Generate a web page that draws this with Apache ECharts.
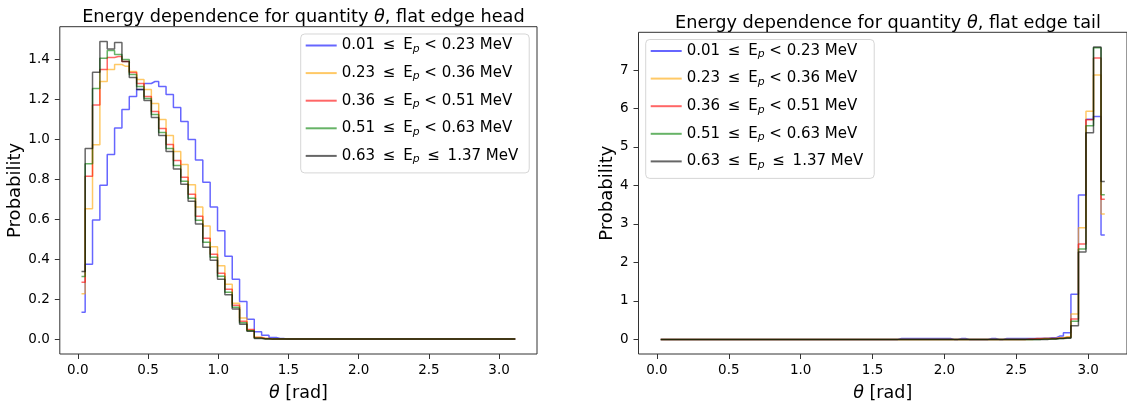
<!DOCTYPE html>
<html>
<head>
<meta charset="utf-8">
<script src="https://cdn.jsdelivr.net/npm/echarts@6/dist/echarts.min.js"></script>
<style>
  html, body { margin: 0; padding: 0; background: #fff; }
  #chart { width: 1127px; height: 407px; }
</style>
</head>
<body>
<div id="chart"></div>
<script>
// Bin centres in theta (rad): 60 equal bins over [0, pi]
const thetaCenters = [
  0.0262, 0.0785, 0.1309, 0.1833, 0.2356, 0.2880, 0.3403, 0.3927, 0.4451, 0.4974,
  0.5498, 0.6021, 0.6545, 0.7069, 0.7592, 0.8116, 0.8639, 0.9163, 0.9687, 1.0210,
  1.0734, 1.1257, 1.1781, 1.2305, 1.2828, 1.3352, 1.3875, 1.4399, 1.4923, 1.5446,
  1.5970, 1.6493, 1.7017, 1.7541, 1.8064, 1.8588, 1.9111, 1.9635, 2.0159, 2.0682,
  2.1206, 2.1729, 2.2253, 2.2777, 2.3300, 2.3824, 2.4347, 2.4871, 2.5395, 2.5918,
  2.6442, 2.6965, 2.7489, 2.8013, 2.8536, 2.9060, 2.9583, 3.0107, 3.0631, 3.1154
];

const xTicks = [0, 0.5, 1.0, 1.5, 2.0, 2.5, 3.0];
const headYTicks = [0, 0.2, 0.4, 0.6, 0.8, 1.0, 1.2, 1.4];
const tailYTicks = [0, 1, 2, 3, 4, 5, 6, 7];

// Energy bands (MeV)
const bandLow = ['0.01', '0.23', '0.36', '0.51', '0.63'];
const bandHigh = ['0.23', '0.36', '0.51', '0.63', '1.37'];
const bandUpperRel = ['<', '<', '<', '<', '≤'];

// Flat edge head: probability density per theta bin
const headBand1 = [
  0.135, 0.375, 0.596, 0.770, 0.925, 1.057, 1.150, 1.215, 1.250, 1.280,
  1.290, 1.265, 1.225, 1.160, 1.090, 1.000, 0.897, 0.785, 0.662, 0.543,
  0.415, 0.300, 0.189, 0.099, 0.037, 0.020, 0.008, 0.003, 0, 0,
  0, 0, 0, 0, 0, 0, 0, 0, 0, 0,
  0, 0, 0, 0, 0, 0, 0, 0, 0, 0,
  0, 0, 0, 0, 0, 0, 0, 0, 0, 0
];
const headBand2 = [
  0.227, 0.653, 0.973, 1.290, 1.350, 1.375, 1.366, 1.340, 1.300, 1.250,
  1.180, 1.100, 1.020, 0.940, 0.875, 0.773, 0.662, 0.567, 0.463, 0.367,
  0.275, 0.180, 0.106, 0.045, 0.010, 0.003, 0.001, 0, 0, 0,
  0, 0, 0, 0, 0, 0, 0, 0, 0, 0,
  0, 0, 0, 0, 0, 0, 0, 0, 0, 0,
  0, 0, 0, 0, 0, 0, 0, 0, 0, 0
];
const headBand3 = [
  0.285, 0.815, 1.172, 1.350, 1.410, 1.415, 1.390, 1.335, 1.280, 1.215,
  1.140, 1.055, 0.975, 0.895, 0.810, 0.725, 0.615, 0.505, 0.425, 0.330,
  0.250, 0.170, 0.090, 0.048, 0.008, 0.003, 0, 0, 0, 0,
  0, 0, 0, 0, 0, 0, 0, 0, 0, 0,
  0, 0, 0, 0, 0, 0, 0, 0, 0, 0,
  0, 0, 0, 0, 0, 0, 0, 0, 0, 0
];
const headBand4 = [
  0.313, 0.878, 1.255, 1.407, 1.445, 1.425, 1.400, 1.325, 1.265, 1.205,
  1.125, 1.035, 0.955, 0.870, 0.790, 0.705, 0.595, 0.485, 0.410, 0.315,
  0.235, 0.160, 0.082, 0.042, 0.005, 0.002, 0, 0, 0, 0,
  0, 0, 0, 0, 0, 0, 0, 0, 0, 0,
  0, 0, 0, 0, 0, 0, 0, 0, 0, 0,
  0, 0, 0, 0, 0, 0, 0, 0, 0, 0
];
const headBand5 = [
  0.339, 0.955, 1.337, 1.490, 1.453, 1.485, 1.390, 1.310, 1.250, 1.195,
  1.110, 1.020, 0.940, 0.852, 0.776, 0.691, 0.576, 0.460, 0.395, 0.300,
  0.222, 0.151, 0.075, 0.039, 0.003, 0.001, 0, 0, 0, 0,
  0, 0, 0, 0, 0, 0, 0, 0, 0, 0,
  0, 0, 0, 0, 0, 0, 0, 0, 0, 0,
  0, 0, 0, 0, 0, 0, 0, 0, 0, 0
];

// Flat edge tail: probability density per theta bin
const tailBand1 = [
  0, 0, 0, 0, 0, 0, 0, 0, 0, 0,
  0, 0, 0, 0, 0, 0, 0, 0, 0, 0,
  0, 0, 0, 0, 0, 0, 0, 0, 0, 0,
  0, 0, 0.02, 0.02, 0.02, 0.02, 0.02, 0.02, 0.02, 0,
  0.02, 0, 0, 0, 0.02, 0, 0.02, 0.02, 0.02, 0.02,
  0.02, 0.03, 0.04, 0.086, 0.17, 1.17, 3.75, 5.72, 5.79, 2.71
];
const tailBand2 = [
  0, 0, 0, 0, 0, 0, 0, 0, 0, 0,
  0, 0, 0, 0, 0, 0, 0, 0, 0, 0,
  0, 0, 0, 0, 0, 0, 0, 0, 0, 0,
  0, 0, 0, 0, 0, 0, 0, 0, 0, 0,
  0, 0, 0, 0, 0, 0, 0, 0, 0, 0,
  0.01, 0.02, 0.02, 0.04, 0.07, 0.66, 2.90, 5.93, 6.87, 3.26
];
const tailBand3 = [
  0, 0, 0, 0, 0, 0, 0, 0, 0, 0,
  0, 0, 0, 0, 0, 0, 0, 0, 0, 0,
  0, 0, 0, 0, 0, 0, 0, 0, 0, 0,
  0, 0, 0, 0, 0, 0, 0, 0, 0, 0,
  0, 0, 0, 0, 0, 0, 0, 0, 0, 0.01,
  0.02, 0.02, 0.02, 0.03, 0.05, 0.53, 2.48, 5.71, 7.31, 3.64
];
const tailBand4 = [
  0, 0, 0, 0, 0, 0, 0, 0, 0, 0,
  0, 0, 0, 0, 0, 0, 0, 0, 0, 0,
  0, 0, 0, 0, 0, 0, 0, 0, 0, 0,
  0, 0, 0, 0, 0, 0, 0, 0, 0, 0,
  0, 0, 0, 0, 0, 0, 0, 0, 0, 0,
  0, 0.01, 0.01, 0.02, 0.04, 0.47, 2.35, 5.55, 7.58, 3.76
];
const tailBand5 = [
  0, 0, 0, 0, 0, 0, 0, 0, 0, 0,
  0, 0, 0, 0, 0, 0, 0, 0, 0, 0,
  0, 0, 0, 0, 0, 0, 0, 0, 0, 0,
  0, 0, 0, 0, 0, 0, 0, 0, 0, 0,
  0, 0, 0, 0, 0, 0, 0, 0, 0, 0,
  0, 0, 0.01, 0.02, 0.03, 0.355, 2.27, 5.37, 7.60, 4.10
];

const headSets = [headBand1, headBand2, headBand3, headBand4, headBand5];
const tailSets = [tailBand1, tailBand2, tailBand3, tailBand4, tailBand5];
const bandColors = [
  'rgba(0,0,255,0.6)', 'rgba(255,165,0,0.6)', 'rgba(255,0,0,0.6)',
  'rgba(0,128,0,0.6)', 'rgba(0,0,0,0.6)'
];

const FONT = 'DejaVu Sans';
const bandNames = bandLow.map((lo, i) => lo + ' ≤ Ep ' + bandUpperRel[i] + ' ' + bandHigh[i] + ' MeV');
const bandRich = {};
bandNames.forEach((n, i) => {
  const upper = bandUpperRel[i] === '≤' ? ' \u2009≤\u2009 ' : ' < ';
  bandRich[n] = '{t|' + bandLow[i] + ' \u2009≤\u2009 E}{s|p}{t|' + upper + bandHigh[i] + ' MeV}';
});

function stepSeries(values, i, axis) {
  return {
    type: 'line',
    name: bandNames[i],
    xAxisIndex: axis,
    yAxisIndex: axis,
    step: 'middle',
    symbol: 'none',
    showSymbol: false,
    silent: true,
    animation: false,
    data: thetaCenters.map((t, k) => [t, values[k]]),
    lineStyle: { color: bandColors[i], width: 1.5 },
    itemStyle: { color: bandColors[i] }
  };
}

const legendText = {
  rich: {
    t: { fontFamily: FONT, fontSize: 15, color: '#000', lineHeight: 18 },
    s: { fontFamily: FONT, fontSize: 10.8, fontStyle: 'italic', color: '#000', lineHeight: 8, verticalAlign: 'bottom' }
  }
};

function legendAt(left, top) {
  return {
    data: bandNames,
    orient: 'vertical',
    left: left,
    top: top,
    icon: 'rect',
    itemWidth: 31,
    itemHeight: 2,
    itemGap: 11.1,
    padding: [4, 11, 8, 5],
    backgroundColor: 'rgba(255,255,255,0.8)',
    borderColor: 'rgba(204,204,204,0.8)',
    borderWidth: 1,
    borderRadius: 4,
    selectedMode: false,
    formatter: name => bandRich[name],
    textStyle: legendText
  };
}

function xAxisFor(idx) {
  return {
    type: 'value',
    gridIndex: idx,
    min: -0.1283,
    max: 3.2699,
    axisLine: { show: false, onZero: false },
    splitLine: { show: false },
    axisTick: { show: true, customValues: xTicks, length: 5, lineStyle: { color: '#333' } },
    axisLabel: {
      customValues: xTicks, margin: 9, formatter: v => v.toFixed(1),
      fontFamily: FONT, fontSize: 13.5, color: '#000'
    },
    name: '{i|θ} [rad]',
    nameLocation: 'middle',
    nameGap: 30,
    nameTextStyle: {
      fontFamily: FONT, fontSize: 17.5, color: '#000',
      rich: { i: { fontFamily: FONT, fontSize: 17.5, fontStyle: 'italic', color: '#000' } }
    }
  };
}

function yAxisFor(idx, min, max, ticks, digits, gap) {
  return {
    type: 'value',
    gridIndex: idx,
    min: min,
    max: max,
    axisLine: { show: false, onZero: false },
    splitLine: { show: false },
    axisTick: { show: true, customValues: ticks, length: 5, lineStyle: { color: '#333' } },
    axisLabel: {
      customValues: ticks, margin: 10, formatter: v => v.toFixed(digits),
      fontFamily: FONT, fontSize: 13.5, color: '#000'
    },
    name: 'Probability',
    nameLocation: 'middle',
    nameGap: gap,
    nameTextStyle: { fontFamily: FONT, fontSize: 18, color: '#000' }
  };
}

const titleStyle = {
  fontFamily: FONT, fontSize: 17.7, fontWeight: 'normal', color: '#000',
  rich: { i: { fontFamily: FONT, fontSize: 17.7, fontStyle: 'italic', color: '#000' } }
};

const chart = echarts.init(document.getElementById('chart'), null, { renderer: 'canvas' });
chart.setOption({
  animation: false,
  backgroundColor: '#fff',
  title: [
    { text: 'Energy dependence for quantity {i|θ}, flat edge head', left: 298.4, top: 3, textAlign: 'center', textStyle: titleStyle },
    { text: 'Energy dependence for quantity {i|θ}, flat edge tail', left: 883, top: 9, textAlign: 'center', textStyle: titleStyle }
  ],
  grid: [
    { left: 59.8, top: 26.7, width: 477.2, height: 331.6, show: true, borderColor: '#333', borderWidth: 1, backgroundColor: 'transparent', containLabel: false },
    { left: 638.5, top: 32.3, width: 489, height: 329.4, show: true, borderColor: '#333', borderWidth: 1, backgroundColor: 'transparent', containLabel: false }
  ],
  xAxis: [xAxisFor(0), xAxisFor(1)],
  yAxis: [
    yAxisFor(0, -0.0745, 1.5645, headYTicks, 1, 30),
    yAxisFor(1, -0.38, 7.98, tailYTicks, 0, 20)
  ],
  legend: [legendAt(300.7, 34), legendAt(645.7, 39.5)],
  series: [
    ...headSets.map((v, i) => stepSeries(v, i, 0)),
    ...tailSets.map((v, i) => stepSeries(v, i, 1))
  ]
});
</script>
</body>
</html>
